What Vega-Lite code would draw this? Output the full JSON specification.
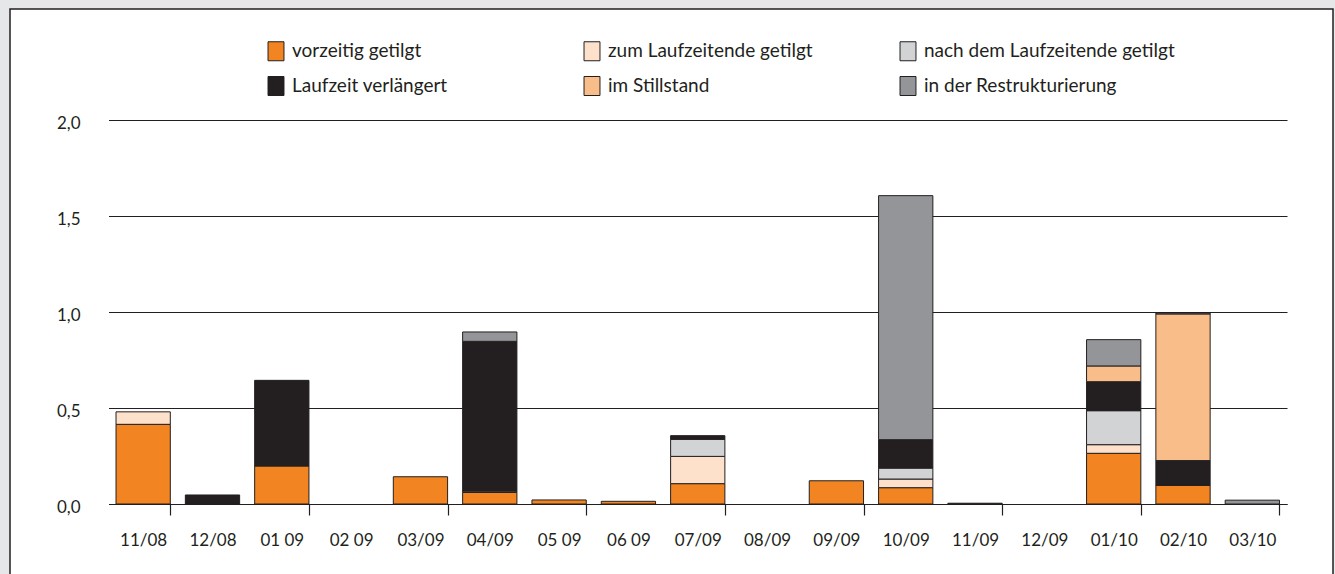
{
  "$schema": "https://vega.github.io/schema/vega-lite/v6.json",
  "autosize": {"type": "none"},
  "padding": {"left": 10, "top": 9, "right": 2, "bottom": 0},
  "width": 1323,
  "height": 580,
  "background": "#e6e7e8",
  "config": {
    "view": {"fill": "white", "stroke": "#231f20", "strokeWidth": 1.5},
    "font": "Lato"
  },
  "data": {
    "values": [
      {"Monat": "11/08", "Status": "vorzeitig getilgt", "Rang": 1, "Wert": 0.415},
      {"Monat": "11/08", "Status": "zum Laufzeitende getilgt", "Rang": 2, "Wert": 0.065},
      {"Monat": "12/08", "Status": "Laufzeit verlängert", "Rang": 4, "Wert": 0.047},
      {"Monat": "01 09", "Status": "vorzeitig getilgt", "Rang": 1, "Wert": 0.198},
      {"Monat": "01 09", "Status": "Laufzeit verlängert", "Rang": 4, "Wert": 0.446},
      {"Monat": "03/09", "Status": "vorzeitig getilgt", "Rang": 1, "Wert": 0.142},
      {"Monat": "04/09", "Status": "vorzeitig getilgt", "Rang": 1, "Wert": 0.06},
      {"Monat": "04/09", "Status": "zum Laufzeitende getilgt", "Rang": 2, "Wert": 0.007},
      {"Monat": "04/09", "Status": "Laufzeit verlängert", "Rang": 4, "Wert": 0.78},
      {"Monat": "04/09", "Status": "in der Restrukturierung", "Rang": 6, "Wert": 0.049},
      {"Monat": "05 09", "Status": "vorzeitig getilgt", "Rang": 1, "Wert": 0.021},
      {"Monat": "06 09", "Status": "vorzeitig getilgt", "Rang": 1, "Wert": 0.014},
      {"Monat": "07/09", "Status": "vorzeitig getilgt", "Rang": 1, "Wert": 0.106},
      {"Monat": "07/09", "Status": "zum Laufzeitende getilgt", "Rang": 2, "Wert": 0.142},
      {"Monat": "07/09", "Status": "nach dem Laufzeitende getilgt", "Rang": 3, "Wert": 0.089},
      {"Monat": "07/09", "Status": "Laufzeit verlängert", "Rang": 4, "Wert": 0.019},
      {"Monat": "09/09", "Status": "vorzeitig getilgt", "Rang": 1, "Wert": 0.121},
      {"Monat": "10/09", "Status": "vorzeitig getilgt", "Rang": 1, "Wert": 0.085},
      {"Monat": "10/09", "Status": "zum Laufzeitende getilgt", "Rang": 2, "Wert": 0.045},
      {"Monat": "10/09", "Status": "nach dem Laufzeitende getilgt", "Rang": 3, "Wert": 0.057},
      {"Monat": "10/09", "Status": "Laufzeit verlängert", "Rang": 4, "Wert": 0.148},
      {"Monat": "10/09", "Status": "in der Restrukturierung", "Rang": 6, "Wert": 1.271},
      {"Monat": "11/09", "Status": "Laufzeit verlängert", "Rang": 4, "Wert": 0.004},
      {"Monat": "01/10", "Status": "vorzeitig getilgt", "Rang": 1, "Wert": 0.264},
      {"Monat": "01/10", "Status": "zum Laufzeitende getilgt", "Rang": 2, "Wert": 0.045},
      {"Monat": "01/10", "Status": "nach dem Laufzeitende getilgt", "Rang": 3, "Wert": 0.177},
      {"Monat": "01/10", "Status": "Laufzeit verlängert", "Rang": 4, "Wert": 0.151},
      {"Monat": "01/10", "Status": "im Stillstand", "Rang": 5, "Wert": 0.082},
      {"Monat": "01/10", "Status": "in der Restrukturierung", "Rang": 6, "Wert": 0.137},
      {"Monat": "02/10", "Status": "vorzeitig getilgt", "Rang": 1, "Wert": 0.097},
      {"Monat": "02/10", "Status": "Laufzeit verlängert", "Rang": 4, "Wert": 0.129},
      {"Monat": "02/10", "Status": "im Stillstand", "Rang": 5, "Wert": 0.764},
      {"Monat": "02/10", "Status": "in der Restrukturierung", "Rang": 6, "Wert": 0.005},
      {"Monat": "03/10", "Status": "in der Restrukturierung", "Rang": 6, "Wert": 0.02}
    ]
  },
  "mark": {"type": "bar", "stroke": "#231f20", "strokeWidth": 1},
  "encoding": {
    "x": {
      "field": "Monat",
      "type": "nominal",
      "sort": null,
      "scale": {
        "domain": ["11/08", "12/08", "01 09", "02 09", "03/09", "04/09", "05 09", "06 09", "07/09", "08/09", "09/09", "10/09", "11/09", "12/09", "01/10", "02/10", "03/10"],
        "range": [98.5, 1277],
        "paddingInner": 0.217,
        "paddingOuter": 0.1085
      },
      "axis": {
        "title": null,
        "offset": -85,
        "labelAngle": 0,
        "labelFont": "Lato",
        "labelFontSize": 17,
        "labelColor": "#231f20",
        "labelBaseline": "top",
        "labelPadding": 17,
        "domain": true,
        "domainColor": "#231f20",
        "domainWidth": 1.2,
        "ticks": true,
        "tickBand": "extent",
        "tickSize": 11,
        "tickColor": "#231f20",
        "tickWidth": 1.2,
        "tickOpacity": {
          "condition": {"test": "indexof(['11/08','01 09','03/09','05 09','07/09','09/09','11/09','01/10','03/10'], datum.value) >= 0", "value": 1},
          "value": 0
        },
        "grid": false
      }
    },
    "y": {
      "field": "Wert",
      "type": "quantitative",
      "stack": "zero",
      "scale": {"domain": [0, 2], "range": [495, 111], "nice": false, "zero": false},
      "axis": {
        "title": null,
        "orient": "left",
        "offset": -70,
        "values": [0, 0.5, 1, 1.5, 2],
        "labelExpr": "replace(format(datum.value, '.1f'), '.', ',')",
        "labelFont": "Lato",
        "labelFontSize": 17,
        "labelColor": "#231f20",
        "labelPadding": 0,
        "labelOffset": 3,
        "domain": false,
        "ticks": false,
        "tickSize": 0,
        "grid": true,
        "gridColor": "#231f20",
        "gridWidth": 1.2
      }
    },
    "order": {"field": "Rang", "type": "quantitative", "sort": "ascending"},
    "color": {
      "field": "Status",
      "type": "nominal",
      "sort": ["vorzeitig getilgt", "zum Laufzeitende getilgt", "nach dem Laufzeitende getilgt", "Laufzeit verlängert", "im Stillstand", "in der Restrukturierung"],
      "scale": {
        "domain": ["vorzeitig getilgt", "zum Laufzeitende getilgt", "nach dem Laufzeitende getilgt", "Laufzeit verlängert", "im Stillstand", "in der Restrukturierung"],
        "range": ["#f28521", "#fee1cb", "#d1d3d4", "#231f20", "#f9bd89", "#939598"]
      },
      "legend": {
        "title": null,
        "orient": "none",
        "legendX": 256,
        "legendY": 32,
        "direction": "horizontal",
        "columns": 3,
        "gridAlign": "all",
        "columnPadding": 39,
        "rowPadding": 11,
        "padding": 0,
        "labelFont": "Lato",
        "labelFontSize": 19,
        "labelColor": "#231f20",
        "labelLimit": 400,
        "labelOffset": 6,
        "symbolType": "M-0.84,-1H0.84V1H-0.84Z",
        "symbolSize": 361,
        "symbolStrokeColor": "#231f20",
        "symbolStrokeWidth": 1,
        "symbolOpacity": 1
      }
    }
  }
}
